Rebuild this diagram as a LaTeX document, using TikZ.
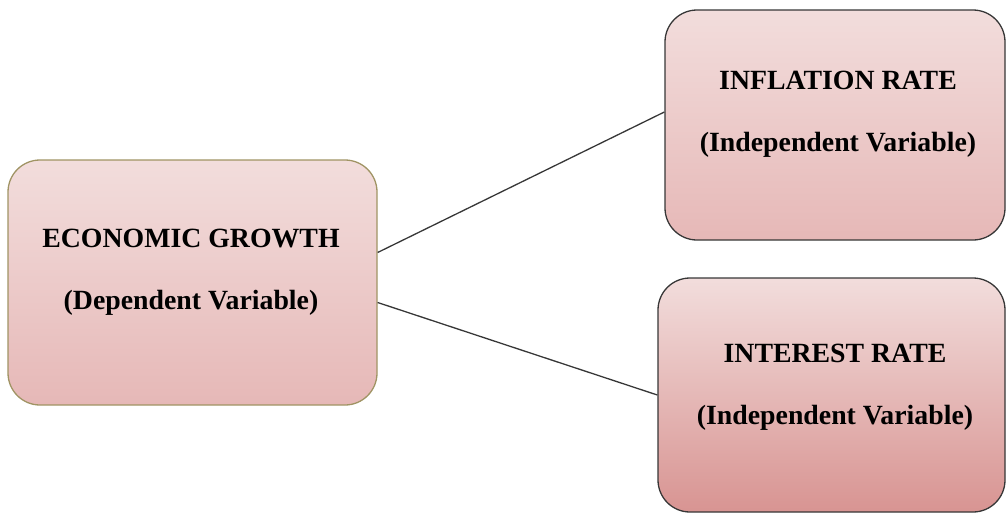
\documentclass[tikz,border=0pt]{standalone}
\usepackage{fontspec}
\setmainfont{Liberation Serif}
\usetikzlibrary{positioning}
\definecolor{boxtop}{RGB}{242,221,220}
\definecolor{boxbot}{RGB}{230,184,183}
\definecolor{boxdeep}{RGB}{216,148,146}
\definecolor{olivedge}{RGB}{160,148,100}
\definecolor{darkedge}{RGB}{55,55,55}

\begin{document}
\begin{tikzpicture}[x=1pt,y=-1pt,
    varbox/.style={rounded corners=32pt, top color=boxtop, bottom color=boxbot, draw=darkedge, line width=1.3pt},
    vartext/.style={font=\fontsize{27.8}{62}\selectfont\bfseries, align=center}]
      \useasboundingbox (0,0) rectangle (1007,515);
      % Boxes
      \node[varbox, draw=olivedge, minimum width=369pt, minimum height=245pt] (growth) at (192.5,282.5) {};
      \node[varbox, minimum width=340pt, minimum height=230pt] (inflation) at (835,125) {};
      \node[varbox, bottom color=boxdeep, minimum width=347pt, minimum height=234pt] (interest) at (831.5,395) {};
      % Labels
      \node[vartext] (growthtxt) at (191,272) {ECONOMIC GROWTH\\(Dependent Variable)};
      \node[vartext] (inflationtxt) at (838,114) {INFLATION RATE\\(Independent Variable)};
      \node[vartext] (interesttxt) at (835,387) {INTEREST RATE\\(Independent Variable)};
      % Connectors
      \coordinate (g1) at ([yshift=30pt]growth.east);
      \coordinate (g2) at ([yshift=-20pt]growth.east);
      \coordinate (f1) at ([yshift=13pt]inflation.west);
      \draw[darkedge, line width=1.3pt] (g1) -- (f1);
      \draw[darkedge, line width=1.3pt] (g2) -- (interest.west);
\end{tikzpicture}
\end{document}
